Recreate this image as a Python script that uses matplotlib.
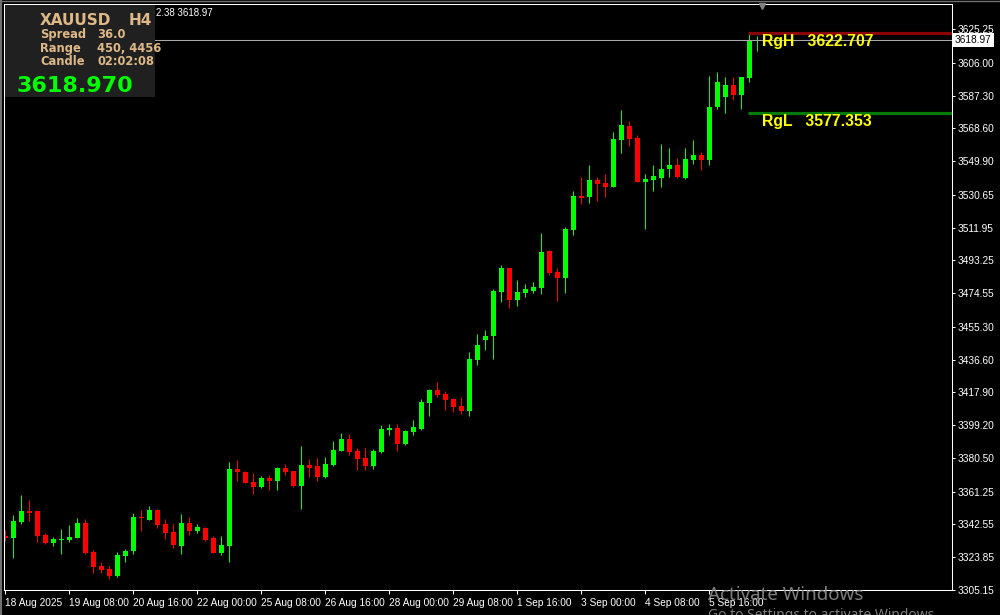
import numpy as np
import matplotlib
matplotlib.use("Agg")
from matplotlib import pyplot as plt
from matplotlib.patches import Rectangle

# XAUUSD H4 (abertura, maxima, minima, fechamento)
abertura = [3335.96, 3334.82, 3343.95, 3350.22, 3350.22, 3336.53, 3331.96, 3333.68, 3333.68, 3334.82,
            3343.38, 3326.83, 3318.84, 3317.13, 3313.13, 3324.55, 3327.40, 3346.80, 3345.09, 3350.79,
            3342.81, 3338.24, 3330.25, 3343.38, 3338.81, 3340.52, 3334.82, 3326.26, 3330.25, 3374.19,
            3372.48, 3366.77, 3363.92, 3369.05, 3367.34, 3374.76, 3373.05, 3364.49, 3376.47, 3375.90,
            3369.62, 3376.47, 3384.46, 3391.31, 3384.46, 3380.47, 3375.90, 3383.89, 3396.44, 3397.58,
            3388.45, 3395.30, 3397.01, 3411.85, 3419.27, 3416.98, 3414.13, 3410.14, 3407.28, 3436.38,
            3447.80, 3450.08, 3475.18, 3488.88, 3470.62, 3474.61, 3475.76, 3477.47, 3498.58, 3486.60,
            3483.17, 3510.56, 3529.96, 3529.39, 3539.09, 3537.38, 3535.10, 3561.92, 3569.90, 3563.06,
            3537.95, 3539.09, 3540.23, 3545.37, 3547.65, 3540.23, 3550.50, 3553.36, 3550.50, 3580.75,
            3586.45, 3593.30, 3587.59, 3597.29, 3618.41]
maxima = [3339.38, 3347.94, 3359.35, 3356.50, 3350.22, 3337.67, 3335.39, 3339.95, 3342.23, 3346.23,
          3345.66, 3327.97, 3321.12, 3318.84, 3326.83, 3328.54, 3349.08, 3350.79, 3353.08, 3351.36,
          3345.66, 3342.81, 3348.51, 3346.80, 3342.81, 3341.09, 3335.96, 3335.96, 3378.18, 3379.32,
          3373.05, 3371.91, 3370.19, 3370.76, 3375.33, 3377.04, 3373.05, 3387.31, 3379.89, 3380.47,
          3381.04, 3390.17, 3394.73, 3394.16, 3386.17, 3386.17, 3385.60, 3399.29, 3399.87, 3399.87,
          3396.44, 3402.15, 3414.13, 3419.84, 3423.83, 3418.70, 3414.70, 3415.27, 3440.95, 3451.22,
          3453.50, 3476.90, 3490.59, 3488.88, 3482.03, 3479.75, 3480.89, 3508.85, 3499.15, 3488.88,
          3512.27, 3532.82, 3540.80, 3547.65, 3540.80, 3542.52, 3566.48, 3579.03, 3572.76, 3564.77,
          3542.52, 3547.65, 3559.63, 3557.35, 3551.65, 3557.35, 3561.92, 3555.07, 3598.43, 3600.72,
          3597.86, 3597.86, 3597.86, 3622.71, 3621.40]
minima = [3333.11, 3323.41, 3342.81, 3344.52, 3332.53, 3331.39, 3330.25, 3325.69, 3332.53, 3334.82,
          3325.69, 3314.85, 3314.85, 3311.42, 3312.56, 3321.12, 3325.69, 3338.81, 3345.09, 3340.52,
          3334.25, 3329.11, 3325.69, 3336.53, 3337.67, 3333.11, 3326.26, 3325.12, 3321.12, 3367.34,
          3366.20, 3359.92, 3363.35, 3362.21, 3362.21, 3370.76, 3363.92, 3351.36, 3369.62, 3367.34,
          3369.05, 3375.90, 3384.46, 3382.18, 3373.62, 3373.62, 3374.19, 3383.32, 3393.59, 3384.46,
          3387.88, 3393.59, 3396.44, 3404.43, 3415.27, 3407.85, 3406.71, 3405.57, 3404.43, 3433.53,
          3442.09, 3436.95, 3469.48, 3466.06, 3467.20, 3472.33, 3474.61, 3474.04, 3484.88, 3470.05,
          3474.61, 3507.71, 3525.40, 3525.97, 3527.11, 3529.39, 3535.10, 3554.50, 3558.49, 3537.95,
          3511.13, 3532.82, 3535.10, 3540.80, 3540.23, 3539.66, 3548.22, 3544.80, 3547.65, 3579.60,
          3577.35, 3584.74, 3579.60, 3595.01, 3612.70]
fechamento = [3334.82, 3344.52, 3350.22, 3349.08, 3335.96, 3331.96, 3334.25, 3334.25, 3335.39, 3343.38,
              3326.26, 3318.27, 3316.56, 3313.13, 3325.12, 3327.40, 3346.80, 3346.23, 3350.79, 3342.23,
              3337.67, 3330.82, 3343.38, 3338.81, 3341.09, 3333.68, 3326.26, 3330.82, 3374.19, 3372.48,
              3366.20, 3363.92, 3369.05, 3367.34, 3374.76, 3372.48, 3364.49, 3376.47, 3374.76, 3369.62,
              3377.04, 3385.03, 3391.31, 3383.89, 3379.89, 3375.90, 3384.46, 3397.01, 3397.58, 3388.45,
              3395.87, 3398.15, 3412.42, 3419.27, 3416.41, 3413.56, 3409.57, 3407.28, 3436.95, 3444.94,
              3450.08, 3475.76, 3488.88, 3470.62, 3475.18, 3476.90, 3478.04, 3498.01, 3486.03, 3483.17,
              3511.13, 3529.96, 3528.82, 3539.09, 3536.81, 3535.10, 3562.49, 3570.47, 3562.49, 3537.95,
              3539.66, 3541.37, 3545.37, 3547.65, 3540.80, 3551.07, 3553.36, 3550.50, 3580.75, 3595.01,
              3593.30, 3587.59, 3597.86, 3618.41, 3618.97]

rotulos_x = ["18 Aug 2025", "19 Aug 08:00", "20 Aug 16:00", "22 Aug 00:00", "25 Aug 08:00",
             "26 Aug 16:00", "28 Aug 00:00", "29 Aug 08:00", "1 Sep 16:00", "3 Sep 00:00",
             "4 Sep 08:00", "5 Sep 16:00"]
precos_y = [3625.25, 3606.00, 3587.30, 3568.60, 3549.90, 3530.65, 3511.95, 3493.25, 3474.55,
            3455.30, 3436.60, 3417.90, 3399.20, 3380.50, 3361.25, 3342.55, 3323.85, 3305.15]

preco_atual = 3618.97
rg_alta = 3622.707
rg_baixa = 3577.353

abertura = np.array(abertura)
maxima = np.array(maxima)
minima = np.array(minima)
fechamento = np.array(fechamento)
n = len(abertura)
barras = np.arange(n)
sobe = fechamento >= abertura
cores = np.where(sobe, "#00ff00", "#ff0000")

W, H = 1000, 615
fig = plt.figure(figsize=(W / 100, H / 100), dpi=100, facecolor="black")


def fx(px):
    return px / W


def fy(py):
    return 1 - py / H


ax = fig.add_axes([fx(4), fy(590), fx(948), 586 / H])
ax.set_facecolor("black")

# Pavios e corpos
ax.vlines(barras, minima, maxima, colors=cores, linewidth=0.75)
corpo = np.maximum(np.abs(fechamento - abertura), 0.6)
ax.bar(barras, corpo, bottom=np.minimum(abertura, fechamento), width=0.62,
       color=cores, linewidth=0)

# Linha do preco atual
ax.axhline(preco_atual, color="#a8a8a8", linewidth=0.75)

# Linhas RgH / RgL
ax.hlines(rg_alta, 92.8, 130, colors="#8b0000", linewidth=2.3)
ax.hlines(rg_baixa, 92.8, 130, colors="#007a00", linewidth=2.3)
for nome, valor in [("RgH", rg_alta), ("RgL", rg_baixa)]:
    ax.annotate("%s   %.3f" % (nome, valor), xy=(94.6, valor), xytext=(0, -9.3),
                textcoords="offset points", color="#ffff00", fontsize=11.3,
                fontweight="bold", family="Liberation Sans", va="baseline")

ax.set_xlim((4 - 5.3) / 8, (952 - 5.3) / 8)
ax.set_ylim(3305.15, 3305.15 + 586 * 0.5706)

ax.set_xticks(barras[::8][:len(rotulos_x)], rotulos_x)
for r in ax.get_xticklabels():
    r.set_ha("left")
ax.yaxis.tick_right()
ax.set_yticks(precos_y, ["%.2f" % p for p in precos_y])
ax.tick_params(colors="white", labelsize=7.3, width=0.75)
ax.tick_params(axis="x", length=3, pad=2.5)
ax.tick_params(axis="y", length=2.5, pad=1.5)
for r in ax.get_xticklabels() + ax.get_yticklabels():
    r.set_family("Liberation Sans")
for s in ax.spines.values():
    s.set_color("white")
    s.set_linewidth(0.75)

# Etiqueta do preco no eixo
ax.text(1.003, preco_atual, "%.2f" % preco_atual, transform=ax.get_yaxis_transform(),
        fontsize=7.3, family="Liberation Sans", color="black", va="center", ha="left",
        bbox=dict(boxstyle="square,pad=0.2", facecolor="white", edgecolor="none"))

# Caixa de informacoes
fig.patches.append(Rectangle((fx(5), fy(97)), fx(150), 92 / H, transform=fig.transFigure,
                             facecolor="#202020", edgecolor="none", zorder=5))
bege = "#deb887"
fig.text(fx(40), fy(25), "XAUUSD", color=bege, fontsize=11, fontweight="bold", zorder=6)
fig.text(fx(129), fy(25), "H4", color=bege, fontsize=11, fontweight="bold", zorder=6)
linhas = [("Spread", "36.0", 38), ("Range", "450, 4456", 52), ("Candle", "02:02:08", 65)]
for nome, valor, yb in linhas:
    fig.text(fx(40), fy(yb), nome, color=bege, fontsize=8.3, fontweight="bold", zorder=6)
    fig.text(fx(97), fy(yb), valor, color=bege, fontsize=8.3, fontweight="bold", zorder=6)
fig.text(fx(17), fy(92), "%.3f" % preco_atual, color="#00ff00", fontsize=16,
         fontweight="bold", zorder=6)

fig.text(fx(156), fy(16), "2.38 %.2f" % preco_atual, color="white", fontsize=7,
         family="Liberation Sans")

# Marcador de deslocamento no topo
fig.lines.append(plt.Line2D([fx(762)], [fy(6)], marker="v", markersize=5, color="#808080",
                            transform=fig.transFigure))

# Bordas da janela
fig.lines.append(plt.Line2D([fx(1), fx(1)], [0, 1], color="#707070", linewidth=1.5,
                            transform=fig.transFigure))
fig.lines.append(plt.Line2D([0, 1], [fy(0.5), fy(0.5)], color="#707070", linewidth=1,
                            transform=fig.transFigure))

# Marca d'agua do Windows
fig.text(fx(708), fy(600), "Activate Windows", color="#8c8c8c", fontsize=13.5,
         family="Noto Sans", alpha=0.9)
fig.text(fx(708), fy(619), "Go to Settings to activate Windows.", color="#8c8c8c",
         fontsize=10, family="Noto Sans", alpha=0.9)

plt.savefig("out.png", dpi=100, facecolor="black")
